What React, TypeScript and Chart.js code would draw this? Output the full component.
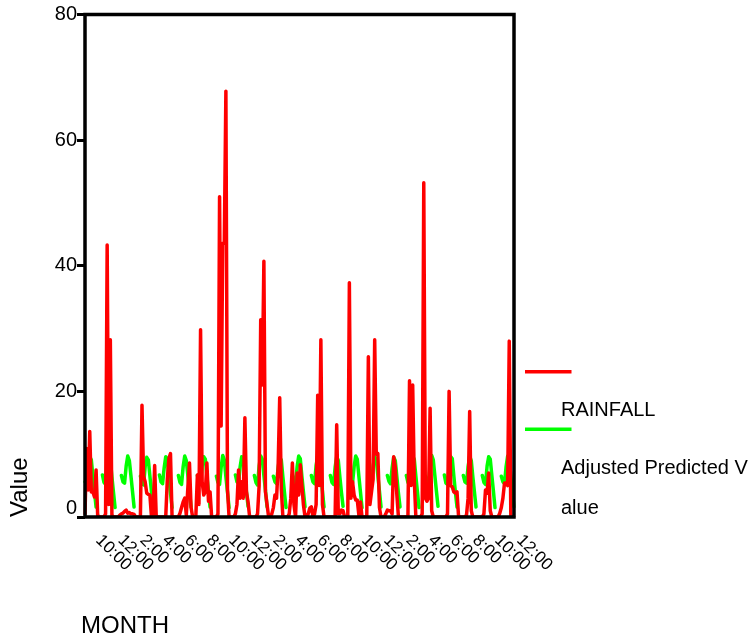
import React, { useEffect, useRef } from 'react';
import { Chart, registerables } from 'chart.js';

Chart.register(...registerables);

const FONT = '"Liberation Sans", Arial, Helvetica, sans-serif';

const SERIES_LABELS = ['RAINFALL', 'Adjusted Predicted Value'];
const SERIES_COLORS = ['#ff0000', '#00ff00'];
const X_TITLE = 'MONTH';
const Y_TITLE = 'Value';
const Y_MIN = 0;
const Y_MAX = 80;
const Y_STEP = 20;

const RAINFALL: number[] = [
  0.5, 10.9, 4.3, 13.6, 4.0, 4.0, 3.2, 7.5, 0.3, 0, 0, 0,
  0, 0.5, 43.3, 2, 28.2, 0.3, 0, 0, 0, 0, 0.3, 0.5,
  0.6, 0.9, 1.1, 0.6, 0.7, 0.5, 0.5, 0.4, 0, 0, 0, 0,
  17.8, 6.5, 5.6, 3.8, 3.6, 3.5, 0, 0.2, 8.2, 0, 0, 0,
  0, 0, 0, 0, 6, 9.3, 10.1, 0, 0, 0, 0, 0,
  0.6, 1.5, 2.4, 3, 0.3, 4.8, 8.6, 1.5, 0, 0, 0, 6.7,
  2, 29.8, 5.6, 3.5, 4, 8.6, 2.5, 4, 0, 0, 0, 0,
  0.5, 51.0, 14.5, 43.6, 43.6, 67.8, 4.5, 0, 0, 0, 0, 0.5,
  2, 7.5, 3, 5.6, 3, 15.8, 4, 2.4, 0, 0, 0, 0,
  0, 0.5, 5, 31.4, 21, 40.7, 4, 2, 0, 0, 0.5, 1.5,
  3.5, 3, 8, 19, 4.5, 0, 0, 0, 0, 0.5, 3, 8.6,
  2, 0, 7, 3.5, 8.3, 5, 1.9, 0, 0, 0.5, 1.4, 1.6,
  0, 0.5, 2, 19.4, 5, 28.2, 2, 0, 0, 0, 0, 0,
  0, 0, 0, 14.7, 0.5, 0.5, 1.1, 1, 0, 0, 0, 37.3,
  3, 5.6, 3.5, 2.7, 2.7, 0.3, 2.4, 0, 0, 0, 0, 25.5,
  2, 4, 6, 28.2, 10, 10.1, 1.5, 0, 0, 0, 0.5, 1.1,
  1, 1, 0.5, 9.6, 8, 3.5, 0, 0, 0, 0, 0, 0,
  0, 21.7, 5, 21, 5.9, 0, 0, 0, 0, 0.5, 53.2, 3,
  2.5, 3, 17.3, 1, 0, 0, 0, 0, 0, 0, 0, 0,
  0, 0.5, 20, 5, 4.8, 4, 3.8, 4, 0, 0, 0, 0,
  0, 0.3, 3, 16.8, 1, 0, 0, 0, 0, 0, 0, 0,
  0.5, 4.3, 3.8, 7, 1, 0, 0, 0, 0, 0, 0.6, 1.5,
  3, 5.4, 5.4, 5, 28, 0, 0, 0,
];

const ADJUSTED_PREDICTED: (number | null)[] = [
  5.6, 5.3, 8.0, 9.6, 9.1, 6.5, 4.0, 1.6, null, null, null, 6.7,
  5.5, 5.2, 7.9, 9.8, 9.2, 6.4, 3.9, 1.5, null, null, null, 6.6,
  5.6, 5.4, 8.1, 9.7, 9.0, 6.6, 4.1, 1.6, null, null, null, 6.5,
  5.4, 5.1, 8.0, 9.5, 9.1, 6.5, 4.0, 1.7, null, null, null, 6.7,
  5.6, 5.3, 7.8, 9.6, 9.3, 6.3, 3.8, 1.5, null, null, null, 6.6,
  5.5, 5.2, 8.0, 9.7, 9.0, 6.5, 4.1, 1.6, null, null, null, 6.6,
  5.7, 5.3, 8.1, 9.6, 9.2, 6.6, 3.9, 1.6, null, null, null, 6.5,
  5.5, 5.2, 7.9, 9.8, 9.1, 6.4, 4.0, 1.5, null, null, null, 6.7,
  5.6, 5.4, 8.0, 9.6, 9.0, 6.5, 4.0, 1.7, null, null, null, 6.6,
  5.5, 5.1, 8.1, 9.7, 9.2, 6.6, 4.2, 1.6, null, null, null, 6.5,
  5.6, 5.3, 7.9, 9.5, 9.1, 6.4, 3.9, 1.5, null, null, null, 6.7,
  5.4, 5.2, 8.0, 9.7, 9.3, 6.5, 4.0, 1.6, null, null, null, 6.6,
  5.6, 5.3, 8.2, 9.8, 9.1, 6.6, 4.1, 1.6, null, null, null, 6.6,
  5.5, 5.2, 7.9, 9.6, 9.0, 6.4, 3.9, 1.7, null, null, null, 6.5,
  5.6, 5.4, 8.0, 9.7, 9.2, 6.5, 4.0, 1.5, null, null, null, 6.7,
  5.5, 5.1, 8.1, 9.6, 9.1, 6.6, 4.1, 1.6, null, null, null, 6.6,
  5.7, 5.3, 7.8, 9.5, 9.0, 6.4, 3.8, 1.6, null, null, null, 6.6,
  5.5, 5.2, 8.0, 9.7, 9.2, 6.5, 4.0, 1.5, null, null, null, 6.5,
  5.6, 5.3, 8.1, 9.8, 9.1, 6.6, 4.1, 1.7, null, null, null, 6.7,
  5.4, 5.2, 7.9, 9.6, 9.3, 6.5, 3.9, 1.6, null, null, null, 6.6,
  5.6, 5.4, 8.0, 9.7, 9.0, 6.4, 4.0, 1.6, null, null, null, 6.6,
  5.5, 5.2, 8.1, 9.6, 9.2, 6.6, 4.1, 1.5, null, null, null, 6.5,
  5.6, 5.3, 8.0, 9.7, 9.1, 6.5, 4.0, 1.6,
];

const X_TICK_LABELS = [
  '10:00', '12:00', '2:00', '4:00', '6:00', '8:00',
  '10:00', '12:00', '2:00', '4:00', '6:00', '8:00',
  '10:00', '12:00', '2:00', '4:00', '6:00', '8:00',
  '10:00', '12:00',
];
const X_TICK_EVERY = 14;

const MONTH_INDEX = RAINFALL.map((_, i) => String(i + 1));

function wrapText(s: string, n: number): string[] {
  const out: string[] = [];
  for (let i = 0; i < s.length; i += n) out.push(s.slice(i, i + n));
  return out;
}

const decorations = {
  id: 'decorations',
  afterDraw(chart: any) {
    const { ctx, chartArea: a, scales } = chart;
    const xs = scales.x;
    const ys = scales.y;
    ctx.save();
    // frame
    ctx.strokeStyle = '#000';
    ctx.lineWidth = 3.5;
    ctx.strokeRect(a.left, a.top, a.right - a.left, a.bottom - a.top);

    ctx.fillStyle = '#000';
    // zero tick label (drawn raised like the original)
    ctx.font = `20px ${FONT}`;
    ctx.textAlign = 'right';
    ctx.textBaseline = 'middle';
    ctx.fillText(String(Y_MIN), a.left - 8, ys.getPixelForValue(Y_MIN) - 9);

    // rotated x tick labels
    ctx.font = `17px ${FONT}`;
    ctx.textAlign = 'left';
    ctx.textBaseline = 'alphabetic';
    X_TICK_LABELS.forEach((t, k) => {
      const px = xs.getPixelForValue(k * X_TICK_EVERY);
      ctx.save();
      ctx.translate(px + 10, a.bottom + 24);
      ctx.rotate(Math.PI / 4);
      ctx.fillText(t, 0, 0);
      ctx.restore();
    });

    // axis titles
    ctx.font = `24px ${FONT}`;
    ctx.fillText(X_TITLE, a.left - 4, a.bottom + 116);
    ctx.save();
    ctx.translate(26.5, a.bottom);
    ctx.rotate(-Math.PI / 2);
    ctx.fillText(Y_TITLE, 0, 0);
    ctx.restore();

    // legend
    const lx0 = a.right + 11;
    const lx1 = a.right + 57.5;
    const tx = a.right + 47;
    let ly = 371.7;
    ctx.font = `20px ${FONT}`;
    chart.data.datasets.forEach((ds: any) => {
      ctx.strokeStyle = ds.borderColor;
      ctx.lineWidth = 3.5;
      ctx.beginPath();
      ctx.moveTo(lx0, ly);
      ctx.lineTo(lx1, ly);
      ctx.stroke();
      const lines = wrapText(ds.label, 20);
      ctx.fillStyle = '#000';
      lines.forEach((ln, li) => {
        ctx.fillText(ln, tx, ly + 44.3 + li * 40);
      });
      ly += 57.6;
    });
    ctx.restore();
  },
};

export default function App() {
  const ref = useRef<HTMLCanvasElement | null>(null);
  useEffect(() => {
    if (!ref.current) return;
    const chart = new Chart(ref.current, {
      type: 'line',
      data: {
        labels: MONTH_INDEX,
        datasets: [
          {
            label: SERIES_LABELS[0],
            data: RAINFALL,
            borderColor: SERIES_COLORS[0],
            backgroundColor: SERIES_COLORS[0],
            borderWidth: 3.5,
            pointRadius: 0,
            tension: 0,
            borderJoinStyle: 'round',
            borderCapStyle: 'round',
          },
          {
            label: SERIES_LABELS[1],
            data: ADJUSTED_PREDICTED,
            borderColor: SERIES_COLORS[1],
            backgroundColor: SERIES_COLORS[1],
            borderWidth: 3.5,
            pointRadius: 0,
            tension: 0,
            spanGaps: false,
            borderJoinStyle: 'round',
            borderCapStyle: 'round',
          },
        ],
      },
      options: {
        animation: false,
        responsive: true,
        maintainAspectRatio: false,
        layout: { padding: { left: 0, top: 14.5, right: 241, bottom: 121 } },
        plugins: { legend: { display: false }, tooltip: { enabled: false } },
        scales: {
          x: { type: 'category', display: false },
          y: {
            min: Y_MIN,
            max: Y_MAX,
            afterFit: (scale: any) => {
              scale.width = 85;
            },
            border: { display: false },
            grid: {
              display: true,
              drawOnChartArea: false,
              drawTicks: true,
              tickLength: 8,
              color: '#000',
              lineWidth: 3,
            },
            ticks: {
              stepSize: Y_STEP,
              padding: 0,
              color: '#000',
              font: { size: 20, family: FONT },
              callback: (v: any) => (Number(v) === Y_MIN ? '' : String(v)),
            },
          },
        },
      },
      plugins: [decorations],
    } as any);
    return () => chart.destroy();
  }, []);
  return (
    <div style={{ position: 'absolute', left: 0, top: 0, width: 755, height: 638, background: '#fff' }}>
      <canvas ref={ref} />
    </div>
  );
}
